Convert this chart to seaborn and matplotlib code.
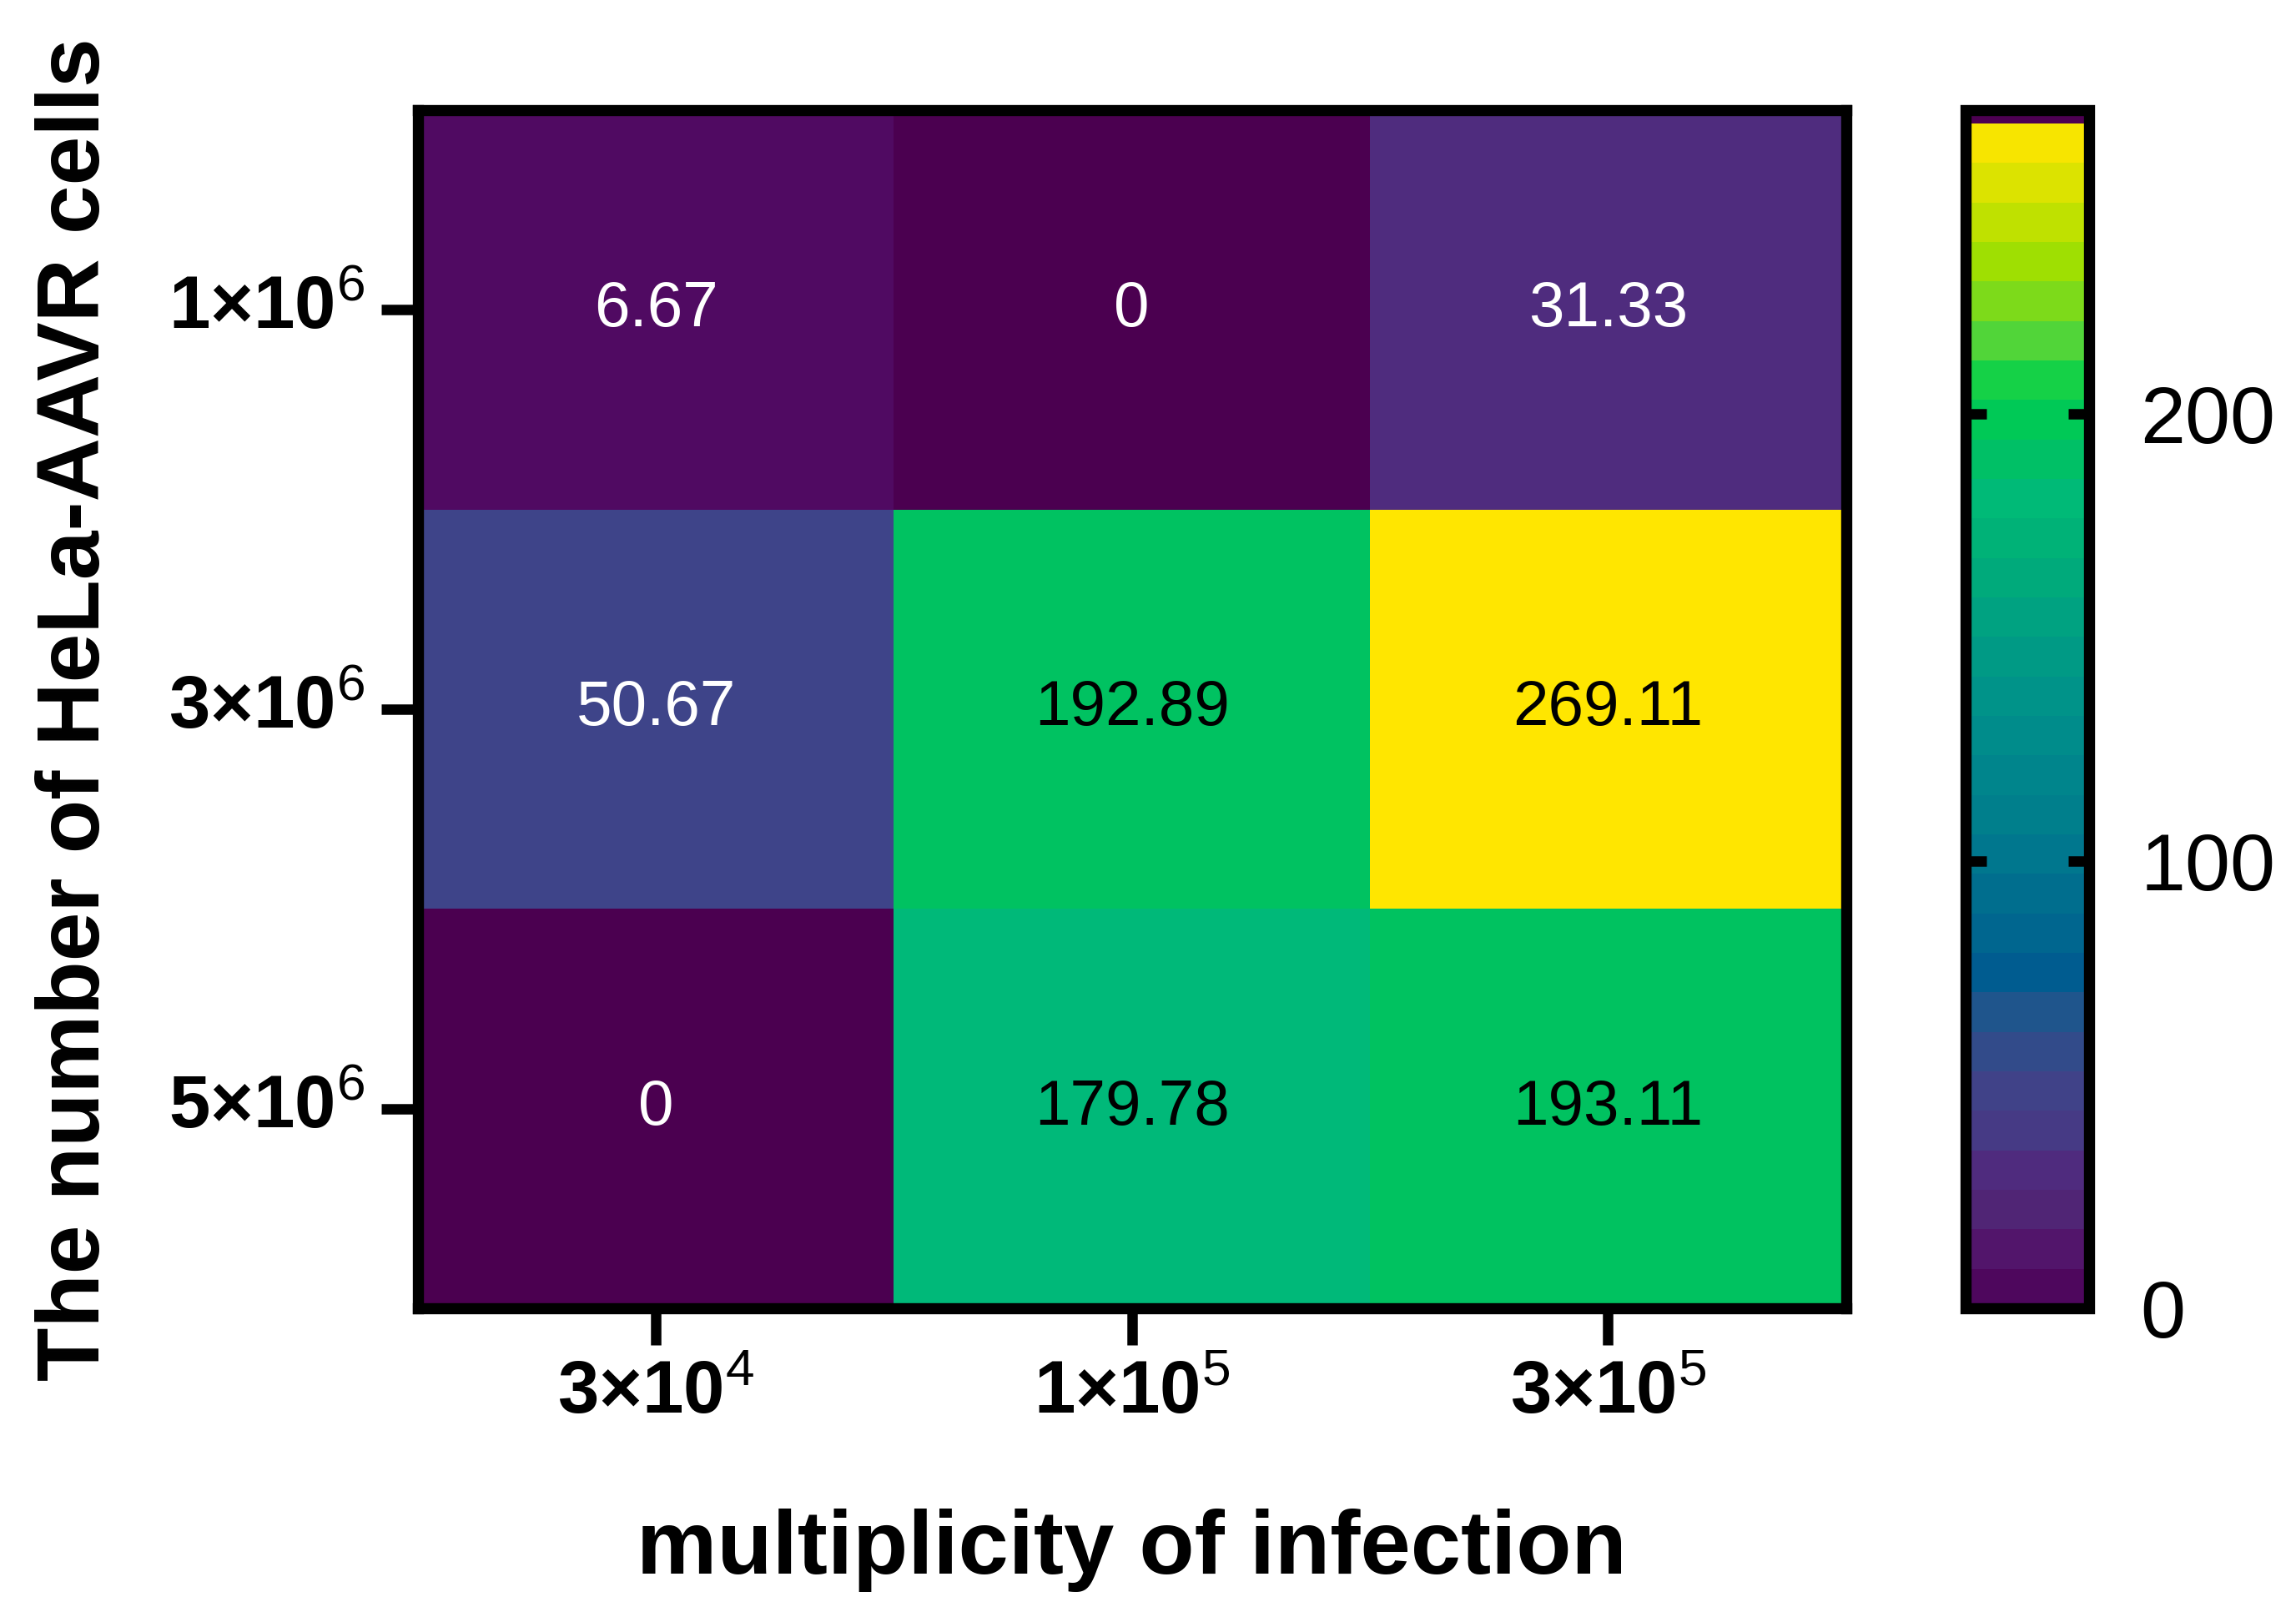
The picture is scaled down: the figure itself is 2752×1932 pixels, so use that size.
import numpy as np
import pandas as pd
import matplotlib
matplotlib.use("Agg")
import matplotlib.pyplot as plt
import matplotlib.cm as cm
from matplotlib.colors import LinearSegmentedColormap, ListedColormap, BoundaryNorm
import seaborn as sns

# ---------------- data ----------------
moi_labels = [r"$\mathbf{3×10}^{4}$", r"$\mathbf{1×10}^{5}$", r"$\mathbf{3×10}^{5}$"]
cell_labels = [r"$\mathbf{1×10}^{6}$", r"$\mathbf{3×10}^{6}$", r"$\mathbf{5×10}^{6}$"]
row_1e6 = [6.67, 0, 31.33]
row_3e6 = [50.67, 192.89, 269.11]
row_5e6 = [0, 179.78, 193.11]

cbar_ticks = [0, 100, 200]
cbar_top = 268
cbar_band_top = 265
cbar_band_count = 30

# Prism-like viridis anchors (value, colour)
anchor_values = [0, 5, 14, 22, 31, 40, 50, 58, 66, 75, 84, 93, 102, 111, 130, 150,
                 170, 180, 192, 201, 209, 218, 226, 235, 244, 252, 261, 269.11]
anchor_colors = ["#4B0050", "#4F0860", "#52166C", "#502575", "#4F2B7E", "#463A85",
                 "#3F4389", "#314C8A", "#20558C", "#005C90", "#00668F", "#006E8E",
                 "#00788E", "#007F8C", "#008D8B", "#009E84", "#00B076", "#00B979",
                 "#00C162", "#00CC52", "#1AD245", "#5CD636", "#80DA18", "#A2E000",
                 "#C2E100", "#DDE300", "#F8E500", "#FFE600"]
cap_color = "#4D0052"

# ---------------- build ----------------
values = np.array([row_1e6, row_3e6, row_5e6])
df = pd.DataFrame(values, index=cell_labels, columns=moi_labels)
annot = np.array([[f"{v:g}" for v in r] for r in values])

vmax = anchor_values[-1]
cmap = LinearSegmentedColormap.from_list(
    "prism_viridis", list(zip(np.array(anchor_values) / vmax, anchor_colors)), N=1024)

sns.set_theme(style="white")
plt.rcParams["font.family"] = ["Liberation Sans", "DejaVu Sans"]
plt.rcParams["mathtext.fontset"] = "custom"
plt.rcParams["mathtext.rm"] = "Liberation Sans"
plt.rcParams["mathtext.bf"] = "Liberation Sans:bold"
plt.rcParams["mathtext.it"] = "Liberation Sans:italic"
plt.rcParams["axes.axisbelow"] = False
for key in ["text.color", "axes.labelcolor", "xtick.color", "ytick.color", "axes.edgecolor"]:
    plt.rcParams[key] = "black"

fig = plt.figure(figsize=(13.76, 9.66), dpi=200)
ax = fig.add_axes([0.182, 0.1884, 0.622, 0.7433])
cax = fig.add_axes([0.856, 0.1884, 0.054, 0.7433])

sns.heatmap(df, ax=ax, cmap=cmap, vmin=0, vmax=vmax, annot=annot, fmt="",
            cbar=False, linewidths=0, annot_kws={"fontsize": 27.5})

for t, v in zip(ax.texts, values.flatten()):
    t.set_color("black" if v > 100 else "white")

for s in ax.spines.values():
    s.set_visible(True)
    s.set_linewidth(4.8)
    s.set_color("black")

ax.tick_params(axis="both", which="major", length=16, width=4.5, direction="out",
               color="black", labelcolor="black", left=True, bottom=True, labelsize=32)
ax.tick_params(axis="y", pad=7)
ax.tick_params(axis="x", pad=6)
plt.setp(ax.get_yticklabels(), rotation=0)
plt.setp(ax.get_xticklabels(), rotation=0)

ax.set_xlabel("multiplicity of infection", fontsize=39, fontweight="bold",
              labelpad=34, color="black")
ax.set_ylabel("The number of HeLa-AAVR cells", fontsize=38, fontweight="bold",
              labelpad=22, color="black")

# banded colour bar
edges = list(np.linspace(0, cbar_band_top, cbar_band_count + 1)) + [cbar_top]
centers = [(edges[i] + edges[i + 1]) / 2 for i in range(cbar_band_count)]
band_colors = [cmap(c / vmax) for c in centers] + [cap_color]
band_cmap = ListedColormap(band_colors)
norm = BoundaryNorm(edges, band_cmap.N)
cb = fig.colorbar(cm.ScalarMappable(norm=norm, cmap=band_cmap), cax=cax,
                  spacing="proportional", ticks=cbar_ticks)
cb.minorticks_off()
cax.set_axisbelow(False)
cb.outline.set_linewidth(4.8)
cb.outline.set_edgecolor("black")
cax.tick_params(which="minor", length=0)
cax.tick_params(which="major", direction="in", length=9, width=4.5, left=True, right=True,
                labelleft=False, labelright=True, labelsize=35, pad=22,
                color="black", labelcolor="black")
cax.set_yticklabels([str(t) for t in cbar_ticks])

fig.savefig("out.png", dpi=200)
